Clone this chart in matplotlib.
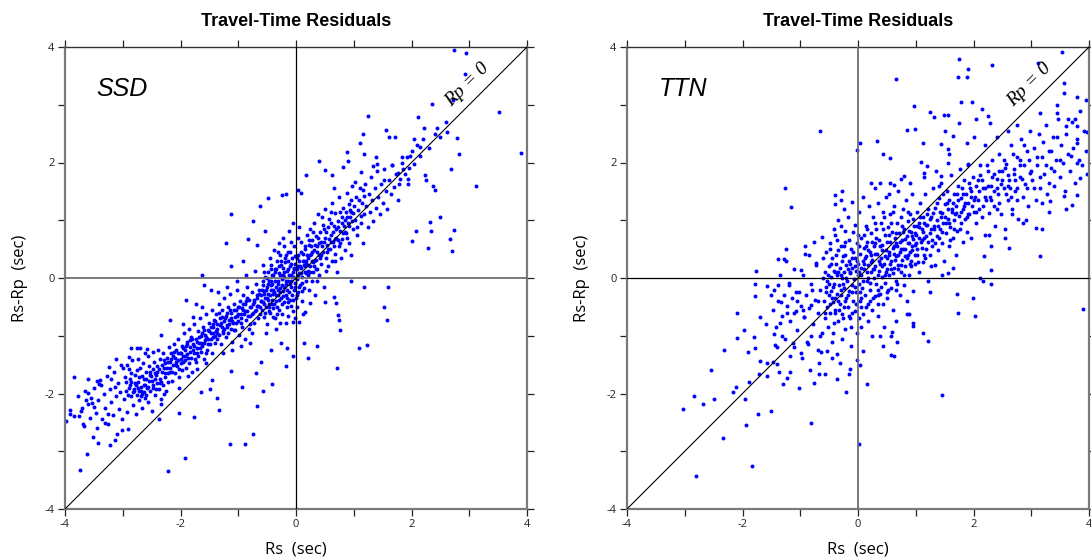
import matplotlib
matplotlib.use("Agg")
import matplotlib.pyplot as plt
import numpy as np

# ---------------- data (seconds) ----------------
ticks_major = [-4, -2, 0, 2, 4]
ticks_minor = [-3, -1, 1, 3]
panel_labels = ["SSD", "TTN"]
title_text = "Travel-Time Residuals"

# SSD: outliers / sparse points
ssd_sparse = [
(2.73,3.94),(2.94,3.89),(2.93,3.54),(2.35,3.02),(2.72,3.08),(3.52,2.87),(3.90,2.16),(1.24,2.80),
(2.11,2.78),(1.55,2.57),(1.16,2.49),(2.22,2.60),(2.44,2.60),(2.61,2.52),(2.79,2.43),(2.83,2.14),
(2.68,1.89),(3.12,1.60),(2.73,0.83),(2.67,0.67),(2.70,0.47),(2.50,1.05),(2.32,0.97),(2.33,0.82),
(2.28,0.52),(2.07,0.82),(2.01,0.64),(2.23,1.79),(2.25,1.69),(2.37,1.60),(2.41,1.52),(0.89,2.18),
(1.18,2.14),(1.10,2.33),(1.61,2.44),(1.71,2.45),(1.39,2.10),(2.05,2.41),(2.15,2.27),(1.98,2.12),
(1.84,2.10),(1.85,1.89),(0.40,2.03),(0.50,1.87),(0.17,1.78),(0.62,1.78),(0.82,1.93),(0.90,2.02),
(1.13,1.84),(1.34,1.94),(1.41,1.97),(1.67,1.95),(1.76,1.82),(1.52,1.69),(1.78,1.63),(1.94,1.72),
(1.94,1.63),(0.97,1.60),(0.66,1.55),(1.02,1.66),(1.16,1.53),(0.04,1.52),(0.08,1.48),(-0.17,1.46),
(-0.24,1.43),(-0.48,1.38),(-0.62,1.25),(-1.12,1.10),(-0.75,0.99),(-1.21,0.60),(-0.83,0.67),
(-0.54,0.81),(-0.68,0.58),(-0.92,0.30),(-1.13,0.20),(-1.63,0.06),
(-3.98,-2.47),(-3.92,-2.35),(-3.91,-2.28),(-3.84,-1.72),(-3.85,-2.39),(-3.76,-2.39),(-3.74,-3.32),
(-3.67,-2.57),(-3.62,-3.05),(-3.52,-2.75),(-3.43,-2.86),(-3.22,-2.89),(-3.13,-2.80),(-3.02,-2.63),
(-2.91,-2.62),(-3.30,-2.51),(-3.60,-1.99),(-3.64,-2.12),(-3.70,-2.25),(-3.54,-2.16),(-3.49,-2.23),
(-3.41,-1.83),(-3.40,-1.77),(-3.23,-1.54),(-3.21,-1.75),(-3.11,-1.40),(-3.03,-1.51),(-2.85,-1.22),
(-2.76,-1.22),(-2.70,-1.22),(-2.58,-1.23),(-2.89,-1.36),(-2.48,-1.29),(-2.33,-0.98),(-2.19,-0.73),
(-1.91,-0.38),(-1.73,-0.45),(-1.60,-0.12),(-1.47,-0.20),(-2.22,-3.35),(-1.93,-3.12),(-1.76,-2.41),
(-2.03,-2.33),(-2.37,-2.45),(-2.33,-2.18),(-1.65,-1.98),(-1.49,-1.92),(-1.45,-1.76),(-1.36,-2.08),
(-1.34,-2.29),(-1.15,-2.88),(-0.89,-2.87),(-0.74,-2.70),(-0.68,-2.21),(-0.94,-1.88),(-0.58,-1.95),
(-0.42,-1.83),(-0.69,-1.64),(-0.60,-1.45),(-1.13,-1.61),(-0.44,-1.25),(-0.17,-1.53),(-0.26,-1.13),
(-0.05,-1.35),(0.13,-1.13),(0.20,-1.38),(0.36,-1.18),(0.71,-1.55),(1.09,-1.21),(1.23,-1.16),
(0.77,-0.90),(0.74,-0.73),(0.72,-0.64),(0.69,-0.44),(1.57,-0.73),(1.53,-0.51),(1.59,-0.16),
(1.17,-0.15),(0.96,-0.06),(0.51,-0.41),(0.65,-0.33),(0.25,-0.44),(0.15,-0.59),(0.06,-0.76),
(-0.05,-0.77),(-0.16,-1.22),
]

# SSD: dense band
ssd_dense = [
(-3.78,-2.05),(-3.72,-2.30),(-3.66,-1.95),(-3.61,-2.18),(-3.57,-2.42),(-3.55,-2.08),(-3.50,-1.90),(-3.47,-2.33),
(-3.44,-2.60),(-3.42,-2.12),(-3.38,-1.85),(-3.36,-2.45),(-3.33,-2.01),(-3.30,-2.25),(-3.28,-1.70),(-3.25,-2.52),
(-3.22,-1.93),(-3.20,-2.15),(-3.17,-2.38),(-3.15,-1.62),(-3.12,-2.05),(-3.10,-2.70),(-3.08,-1.82),(-3.06,-2.27),
(-3.04,-1.98),(-3.02,-2.44),(-3.00,-1.55),(-3.45,-1.78),(-3.60,-1.75),(-3.68,-2.52),(-3.26,-2.35),(-3.14,-1.88),
(-2.98,-2.10),(-2.96,-1.72),(-2.94,-1.95),(-2.92,-2.32),(-2.90,-1.58),(-2.88,-1.85),(-2.86,-2.05),(-2.84,-1.42),
(-2.82,-2.20),(-2.80,-1.92),(-2.78,-1.68),(-2.76,-2.02),(-2.74,-1.80),(-2.72,-2.12),(-2.71,-1.95),(-2.70,-1.55),
(-2.68,-1.88),(-2.67,-2.25),(-2.66,-2.00),(-2.64,-1.75),(-2.63,-1.98),(-2.62,-2.08),(-2.60,-1.62),(-2.58,-1.90),
(-2.57,-1.35),(-2.56,-2.15),(-2.54,-1.78),(-2.52,-1.95),(-2.51,-1.70),(-2.50,-2.30),(-2.48,-1.58),(-2.47,-1.85),
(-2.46,-1.45),(-2.44,-2.02),(-2.42,-1.68),(-2.41,-1.82),(-2.40,-1.52),(-2.38,-1.92),(-2.36,-1.40),(-2.35,-1.75),
(-2.34,-2.10),(-2.32,-1.62),(-2.31,-1.30),(-2.30,-1.85),(-2.28,-1.55),(-2.27,-1.72),(-2.26,-1.48),(-2.25,-1.95),
(-2.24,-1.38),(-2.22,-1.65),(-2.21,-1.80),(-2.20,-1.20),(-2.85,-1.65),(-2.77,-2.35),(-2.65,-1.48),(-2.55,-1.52),
(-2.45,-1.65),(-2.39,-1.25),(-2.29,-2.00),(-2.93,-1.50),(-2.62,-1.30),(-2.74,-1.40),
(-2.19,-1.45),(-2.18,-1.62),(-2.16,-1.30),(-2.15,-1.78),(-2.13,-1.50),(-2.12,-1.15),(-2.10,-1.38),(-2.09,-1.65),
(-2.08,-1.25),(-2.06,-1.52),(-2.05,-1.05),(-2.04,-1.42),(-2.02,-1.72),(-2.01,-1.30),(-2.00,-1.48),(-1.98,-1.18),
(-1.97,-1.60),(-1.96,-1.35),(-1.94,-0.95),(-1.93,-1.42),(-1.92,-1.25),(-1.90,-1.55),(-1.89,-1.10),(-1.88,-1.32),
(-1.86,-1.48),(-1.85,-0.88),(-1.84,-1.20),(-1.82,-1.38),(-1.81,-1.02),(-1.80,-1.62),(-1.78,-1.15),(-1.77,-1.30),
(-1.76,-0.80),(-1.74,-1.45),(-1.73,-1.05),(-1.72,-1.22),(-1.70,-0.92),(-1.69,-1.35),(-1.68,-1.12),(-1.66,-0.70),
(-1.65,-1.28),(-1.64,-1.00),(-1.62,-1.18),(-1.61,-0.85),(-1.60,-1.40),(-1.58,-0.98),(-1.57,-1.08),(-1.56,-0.62),
(-1.54,-1.25),(-1.53,-0.90),(-1.52,-1.05),(-1.50,-0.78),(-1.49,-1.15),(-1.48,-0.95),(-1.46,-0.55),(-1.45,-1.30),
(-1.44,-0.85),(-1.43,-1.02),(-1.42,-0.72),(-1.41,-1.12),(-2.03,-1.90),(-1.87,-1.70),(-1.71,-1.58),(-1.55,-1.48),
(-1.95,-0.80),(-1.79,-0.68),(-1.63,-0.50),
(-1.39,-0.92),(-1.38,-0.62),(-1.37,-1.05),(-1.36,-0.80),(-1.34,-0.45),(-1.33,-0.98),(-1.32,-0.70),(-1.30,-1.15),
(-1.29,-0.85),(-1.28,-0.55),(-1.26,-0.92),(-1.25,-0.75),(-1.24,-0.35),(-1.22,-1.02),(-1.21,-0.65),(-1.20,-0.82),
(-1.18,-0.50),(-1.17,-0.95),(-1.16,-0.72),(-1.14,-0.28),(-1.13,-0.88),(-1.12,-0.60),(-1.10,-1.10),(-1.09,-0.78),
(-1.08,-0.45),(-1.06,-0.68),(-1.05,-0.90),(-1.04,-0.55),(-1.02,-0.20),(-1.01,-0.75),(-1.00,-0.62),(-0.98,-0.98),
(-0.97,-0.40),(-0.96,-0.70),(-0.94,-0.52),(-0.93,-0.85),(-0.92,-0.30),(-0.90,-0.62),(-0.89,-1.05),(-0.88,-0.45),
(-0.86,-0.72),(-0.85,-0.15),(-0.84,-0.58),(-0.82,-0.88),(-0.81,-0.38),(-0.80,-0.65),(-0.78,-0.50),(-0.77,-0.95),
(-0.76,-0.25),(-0.74,-0.60),(-0.73,-0.42),(-0.72,-0.78),(-0.70,-0.10),(-0.69,-0.55),(-0.68,-0.35),(-0.66,-0.70),
(-0.65,-0.48),(-0.64,-0.20),(-0.62,-0.62),(-0.61,-0.40),(-1.27,-1.30),(-1.11,-1.25),(-0.95,-1.18),(-0.79,-1.12),
(-1.35,-0.25),(-1.19,-0.15),(-1.03,-0.05),(-0.87,0.05),(-0.71,0.12),
(-0.60,-0.30),(-0.59,-0.55),(-0.58,-0.12),(-0.57,-0.42),(-0.56,-0.68),(-0.55,-0.22),(-0.54,0.02),(-0.53,-0.35),
(-0.52,-0.50),(-0.51,-0.15),(-0.50,-0.80),(-0.49,-0.28),(-0.48,0.10),(-0.47,-0.45),(-0.46,-0.05),(-0.45,-0.60),
(-0.44,-0.20),(-0.43,0.22),(-0.42,-0.38),(-0.41,-0.10),(-0.40,-0.52),(-0.39,0.05),(-0.38,-0.25),(-0.37,-0.70),
(-0.36,0.15),(-0.35,-0.15),(-0.34,-0.40),(-0.33,0.30),(-0.32,-0.05),(-0.31,-0.30),(-0.30,-0.55),(-0.29,0.08),
(-0.28,-0.18),(-0.27,0.40),(-0.26,-0.35),(-0.25,-0.02),(-0.24,-0.62),(-0.23,0.18),(-0.22,-0.22),(-0.21,0.02),
(-0.20,-0.42),(-0.19,0.28),(-0.18,-0.10),(-0.17,-0.30),(-0.16,0.12),(-0.15,-0.50),(-0.14,0.45),(-0.13,-0.05),
(-0.12,-0.25),(-0.11,0.20),(-0.10,-0.38),(-0.09,0.05),(-0.08,-0.15),(-0.07,0.35),(-0.06,-0.58),(-0.05,0.10),
(-0.04,-0.20),(-0.03,0.55),(-0.02,-0.08),(-0.01,0.25),(0.00,-0.35),(0.01,0.15),(0.02,-0.02),(0.03,0.40),
(0.04,-0.25),(0.05,0.08),(0.06,0.30),(0.07,-0.12),(0.08,0.62),(0.09,0.18),(0.10,-0.40),(0.11,0.02),
(0.12,0.42),(0.13,0.22),(0.14,-0.18),(0.15,0.10),(0.16,0.50),(0.17,0.30),(0.18,-0.05),(0.19,0.75),
(-0.45,0.35),(-0.38,0.48),(-0.30,0.60),(-0.22,0.70),(-0.12,0.82),(-0.05,0.95),(0.05,0.88),(-0.52,-0.95),
(-0.35,-0.88),(-0.18,-0.78),(-0.02,-0.70),(0.12,-0.62),(-0.26,0.22),(-0.14,0.30),(-0.09,-0.48),(0.03,0.70),
(-0.33,-0.62),(-0.58,0.22),
(0.20,0.35),(0.21,0.05),(0.22,0.58),(0.23,-0.20),(0.24,0.20),(0.25,0.85),(0.26,0.42),(0.27,-0.05),
(0.28,0.65),(0.29,0.28),(0.30,0.10),(0.31,0.95),(0.32,0.48),(0.33,-0.30),(0.34,0.72),(0.35,0.32),
(0.36,0.15),(0.37,0.55),(0.38,1.10),(0.39,0.40),(0.40,0.05),(0.42,0.80),(0.43,0.62),(0.44,0.25),
(0.46,0.92),(0.47,0.45),(0.48,-0.15),(0.50,0.70),(0.51,1.20),(0.52,0.35),(0.54,0.58),(0.55,0.88),
(0.56,0.20),(0.58,1.02),(0.59,0.50),(0.60,0.75),(0.62,0.30),(0.63,1.30),(0.64,0.62),(0.66,0.90),
(0.67,0.42),(0.68,1.12),(0.70,0.70),(0.71,0.10),(0.72,0.98),(0.74,0.55),(0.75,1.40),(0.76,0.82),
(0.78,0.35),(0.79,1.05),(0.80,0.68),(0.82,1.22),(0.83,0.90),(0.84,0.48),(0.86,1.15),(0.87,0.78),
(0.88,1.48),(0.90,0.95),(0.91,0.60),(0.92,1.28),(0.94,1.05),(0.95,0.40),(0.96,1.35),(0.98,0.85),
(0.99,1.12),
(1.02,1.00),(1.04,1.40),(1.06,0.75),(1.08,1.18),(1.10,1.55),(1.12,0.95),(1.14,1.30),(1.16,0.60),
(1.18,1.10),(1.20,1.62),(1.22,1.25),(1.24,0.88),(1.26,1.45),(1.28,1.15),(1.30,1.75),(1.32,1.35),
(1.34,0.98),(1.36,1.55),(1.38,1.22),(1.40,1.85),(1.42,1.40),(1.45,1.10),(1.48,1.62),(1.50,1.30),
(1.53,1.88),(1.56,1.50),(1.58,1.20),(1.61,1.70),(1.64,1.45),(1.67,1.95),(1.70,1.58),(1.73,1.80),
(1.76,1.35),(1.80,1.72),(1.84,2.00),(1.88,1.80),(1.92,2.10),(1.96,1.90),(2.00,2.20),(2.05,1.98),
(2.10,2.30),(2.15,2.12),(2.20,2.40),(2.30,2.25),(2.40,2.50),(2.50,2.45),(2.60,2.70),
]

# SSD: further points in the solid core of the band
ssd_core = [
(-2.95,-1.80),(-2.91,-2.02),(-2.87,-1.75),(-2.83,-1.98),(-2.79,-1.82),(-2.75,-1.60),(-2.73,-1.90),(-2.69,-2.05),
(-2.66,-1.70),(-2.61,-1.85),(-2.59,-2.02),(-2.53,-1.62),(-2.49,-1.78),(-2.43,-1.92),(-2.37,-1.58),(-2.33,-1.80),
(-2.29,-1.42),(-2.23,-1.55),(-2.17,-1.40),(-2.14,-1.62),(-2.11,-1.28),(-2.07,-1.45),(-2.03,-1.58),(-1.99,-1.30),
(-1.95,-1.45),(-1.91,-1.18),(-1.87,-1.38),(-1.83,-1.08),(-1.79,-1.25),(-1.75,-1.40),(-1.71,-1.10),(-1.67,-1.22),
(-1.63,-0.95),(-1.59,-1.12),(-1.55,-1.30),(-1.51,-0.92),(-1.47,-1.05),(-1.43,-0.80),(-1.40,-1.00),(-1.36,-0.88),
(-1.33,-0.60),(-1.30,-0.78),(-1.27,-0.95),(-1.23,-0.70),(-1.19,-0.85),(-1.15,-0.55),(-1.11,-0.75),(-1.07,-0.90),
(-1.03,-0.65),(-0.99,-0.50),(-0.95,-0.78),(-0.91,-0.55),(-0.87,-0.40),(-0.83,-0.65),(-0.79,-0.80),(-0.75,-0.45),
(-0.71,-0.58),(-0.67,-0.30),(-0.63,-0.50),
(-0.59,-0.20),(-0.57,-0.05),(-0.55,-0.45),(-0.53,-0.60),(-0.51,-0.35),(-0.49,-0.10),(-0.47,-0.58),(-0.45,-0.30),
(-0.43,-0.05),(-0.41,-0.45),(-0.39,-0.20),(-0.37,0.10),(-0.35,-0.30),(-0.33,-0.50),(-0.31,-0.10),(-0.29,0.20),
(-0.27,-0.25),(-0.25,-0.45),(-0.23,0.05),(-0.21,-0.15),(-0.19,0.35),(-0.17,-0.05),(-0.15,-0.35),(-0.13,0.15),
(-0.11,-0.10),(-0.09,0.25),(-0.07,-0.30),(-0.05,0.02),(-0.03,0.18),(-0.01,-0.15),(0.01,0.35),(0.03,0.05),
(0.05,-0.15),(0.07,0.20),(0.09,0.45),(0.11,-0.08),(0.13,0.30),(0.15,0.55),(0.17,0.08),(0.19,0.40),
(0.21,0.22),(0.23,0.65),(0.25,0.10),(0.27,0.45),(0.29,0.80),(0.31,0.30),(0.33,0.58),(0.35,0.15),
(-0.56,0.10),(-0.44,0.15),(-0.32,0.45),(-0.20,0.55),(-0.08,0.62),(0.02,-0.50),(-0.14,-0.65),(-0.28,-0.78),
(-0.40,-0.68),
(0.38,0.70),(0.41,0.35),(0.45,0.55),(0.49,0.85),(0.53,0.45),(0.57,0.68),(0.61,0.95),(0.65,0.55),
(0.69,0.85),(0.73,0.65),(0.77,1.15),(0.81,0.78),(0.85,1.00),(0.89,0.70),(0.93,1.18),(0.97,0.98),
(1.01,1.25),(1.05,0.88),(1.09,1.35),(1.13,1.08),(1.17,1.42),(0.45,1.05),(0.60,1.15),(0.36,-0.05),
(0.52,0.12),(0.68,0.30),
(-2.90,-1.90),(-2.86,-1.80),(-2.81,-1.95),(-2.77,-1.85),(-2.72,-1.72),(-2.68,-1.95),(-2.64,-1.85),(-2.60,-1.75),
(-2.56,-1.88),(-2.52,-1.68),(-2.48,-1.90),(-2.44,-1.75),(-2.40,-1.62),(-2.36,-1.82),(-2.32,-1.50),(-2.27,-1.65),
(-2.22,-1.45),(-2.18,-1.55),(-2.13,-1.35),(-2.08,-1.50),(-2.04,-1.30),(-2.00,-1.40),(-1.96,-1.22),(-1.92,-1.35),
(-1.88,-1.15),(-1.84,-1.28),(-1.80,-1.05),(-1.76,-1.18),(-1.72,-1.30),(-1.68,-1.02),(-1.64,-1.12),(-1.60,-0.90),
(-1.56,-1.02),(-1.52,-1.15),(-1.48,-0.85),(-1.44,-0.95),(-1.40,-0.75),(-1.36,-0.95),(-1.32,-0.82),(-1.28,-0.68),
(-1.24,-0.88),(-1.20,-0.60),(-1.16,-0.80),(-1.12,-0.70),(-1.08,-0.55),(-1.04,-0.78),(-1.00,-0.50),(-0.96,-0.62),
(-0.92,-0.45),(-0.88,-0.58),(-0.84,-0.35),(-0.80,-0.50),(-0.76,-0.62),(-0.72,-0.38),(-0.68,-0.48),(-0.64,-0.28),
(-0.60,-0.40),(-0.56,-0.28),(-0.52,-0.20),(-0.48,-0.38),(-0.44,-0.12),(-0.40,-0.28),(-0.36,-0.05),(-0.32,-0.20),
(-0.28,0.05),(-0.24,-0.12),(-0.20,0.10),(-0.16,-0.20),(-0.12,0.05),(-0.08,-0.05),(-0.04,0.15),(0.00,0.00),
(0.04,0.20),(0.08,0.08),(0.12,0.30),(0.16,0.20),(0.20,0.12),(0.24,0.40),(0.28,0.30),(0.32,0.20),
(0.36,0.45),(0.40,0.60),(0.44,0.40),(0.48,0.62),(0.52,0.80),(0.56,0.50),(0.60,0.62),(0.64,0.80),
(0.68,0.68),(0.72,0.88),(0.76,0.60),(0.80,0.95),(0.84,0.80),(0.88,1.05),(0.92,0.90),(0.96,1.15),
(-0.50,0.00),(-0.42,0.05),(-0.34,0.15),(-0.26,0.30),(-0.18,0.40),(-0.10,0.45),(-0.02,0.38),(-0.46,-0.50),
(-0.38,-0.45),(-0.30,-0.38),(-0.22,-0.32),(-0.14,-0.42),(-0.06,-0.38),(0.02,-0.30),(0.10,-0.22),(0.18,0.25),
(0.26,0.55),
]

# TTN: outliers / sparse points
ttn_sparse = [
(3.54,3.91),(1.75,3.80),(2.32,3.68),(1.90,3.62),(1.73,3.48),(1.89,3.48),(0.66,3.44),(3.12,3.72),
(3.57,3.38),(3.57,3.21),(3.79,3.13),(3.94,3.08),(0.97,2.97),(1.79,3.04),(1.97,3.05),(2.14,2.92),
(1.24,2.87),(1.32,2.79),(1.49,2.83),(1.56,2.83),(1.75,2.69),(2.04,2.75),(2.25,2.80),(2.28,2.69),
(0.85,2.56),(0.98,2.58),(1.50,2.54),(1.64,2.46),(-0.65,2.54),(-0.02,2.21),(0.04,2.33),(0.33,2.38),
(1.12,2.33),(1.43,2.32),(1.56,2.23),(1.57,2.14),(1.88,2.33),(2.00,2.45),(0.44,2.14),(0.56,2.08),
(1.09,2.01),(1.19,1.94),(1.90,1.98),(-1.26,1.55),(-1.16,1.23),(-0.40,1.43),(-0.28,1.51),(-0.39,1.28),
(-0.30,1.35),(0.22,1.65),(0.38,1.65),(0.54,1.45),(0.63,1.61),(0.79,1.76),(0.90,1.64),(1.15,1.82),
(1.40,1.59),(1.44,1.76),(3.44,2.86),(3.63,2.76),(3.75,2.75),(3.61,2.63),(3.80,2.63),(3.96,2.53),
(3.80,2.34),(3.68,2.11),(3.80,1.99),(3.85,1.73),(3.80,1.43),(3.71,1.27),(3.57,1.42),(3.33,1.34),
(3.18,1.30),(3.09,0.87),(3.18,0.84),(3.15,0.38),(2.91,1.01),(2.66,1.10),(2.27,0.74),(2.19,0.38),
(2.62,0.52),(2.30,0.14),(2.12,0.00),(1.56,0.09),(1.27,0.20),(-0.92,0.41),(-1.24,0.50),(-1.39,0.33),
(-1.29,0.33),(-1.76,0.12),(-0.99,0.13),(-0.73,0.26),(-0.63,0.71),(-0.42,0.84),
(-1.79,-0.10),(-1.78,-0.32),(-2.09,-0.60),(-1.97,-0.90),(-2.09,-1.04),(-2.32,-1.25),(-1.91,-1.29),
(-2.55,-1.59),(-2.12,-1.88),(-2.17,-1.97),(-1.88,-1.80),(-1.95,-2.10),(-1.74,-2.35),(-1.94,-2.55),
(-1.50,-2.30),(-2.34,-2.77),(-1.84,-3.26),(-2.80,-3.43),(-2.84,-2.04),(-2.69,-2.19),(-3.03,-2.26),
(-2.49,-2.10),(-1.79,-1.21),(-1.80,-1.02),(-1.70,-1.43),(-1.71,-1.66),(-1.58,-1.69),(-1.58,-1.47),
(-1.48,-1.45),(-1.41,-1.49),(-1.37,-1.62),(-1.30,-1.84),(-1.23,-1.73),(-1.17,-1.63),(-1.03,-1.91),
(-0.83,-1.60),(-0.77,-1.82),(-0.82,-2.51),(-0.67,-1.66),(-0.57,-1.66),(-0.37,-1.75),(-0.21,-1.98),
(-0.16,-1.66),(-0.13,-1.58),(0.02,-2.87),(0.15,-1.83),(1.46,-2.03),(1.22,-1.09),(1.13,-0.95),
(0.95,-0.83),(0.96,-0.78),(0.89,-0.63),(1.73,-0.60),(1.72,-0.28),(1.99,-0.35),(2.02,-0.66),
(3.89,-0.53),(2.30,-0.10),(2.16,-0.05),(0.62,-1.35),(0.58,-1.33),(0.67,-1.10),(0.59,-0.94),
(0.43,-1.17),(0.57,-1.01),(0.38,-1.01),(0.24,-1.01),(0.08,-1.27),(0.04,-1.51),(-0.02,-1.42),
(-0.31,-1.47),(-0.37,-1.31),(-0.45,-1.39),(-0.54,-1.27),(-0.64,-1.29),(-0.68,-1.47),(-0.97,-1.38),
(-1.10,-1.19),(-1.13,-1.13),(-1.44,-1.16),(-1.46,-0.97),(-1.31,-1.01),(-1.35,-0.78),(-1.60,-0.79),
(-1.70,-0.68),(-1.50,-0.30),(-1.58,-0.14),(-1.38,-0.12),(-1.20,-0.09),(-1.08,-0.24),(-1.33,-0.41),
(-1.23,-0.61),(-1.11,-0.61),(-0.94,-0.68),(-0.81,-0.46),(-0.82,-1.01),(-0.65,-1.01),(-0.89,-1.10),
]

# TTN: dense band
ttn_dense = [
(-1.48,-0.55),(-1.45,-0.20),(-1.42,-0.85),(-1.38,-0.40),(-1.35,0.05),(-1.32,-0.65),(-1.29,-0.30),(-1.26,-1.05),
(-1.23,-0.48),(-1.20,-0.12),(-1.17,-0.75),(-1.14,-0.35),(-1.11,0.15),(-1.08,-0.58),(-1.05,-0.90),(-1.02,-0.25),
(-0.99,-0.48),(-0.96,0.05),(-0.93,-0.68),(-0.90,-0.30),(-0.87,-1.15),(-0.84,-0.52),(-0.81,-0.10),(-0.78,-0.80),
(-0.75,-0.38),(-0.72,0.22),(-0.69,-0.60),(-0.66,-0.20),(-0.63,-0.95),(-0.61,0.35),(-1.40,-1.20),(-1.18,-1.35),
(-0.98,-1.30),(-0.85,0.40),(-0.70,-1.25),(-1.25,0.30),(-0.92,0.55),(-0.76,0.62),
(-0.59,-0.40),(-0.58,0.10),(-0.57,-0.70),(-0.56,-0.15),(-0.55,0.45),(-0.54,-0.50),(-0.53,-0.05),(-0.52,-0.85),
(-0.51,0.20),(-0.50,-0.30),(-0.49,0.60),(-0.48,-0.60),(-0.47,0.02),(-0.46,-0.22),(-0.45,0.35),(-0.44,-0.95),
(-0.43,-0.42),(-0.42,0.12),(-0.41,-0.10),(-0.40,0.75),(-0.39,-0.55),(-0.38,0.25),(-0.37,-0.28),(-0.36,0.05),
(-0.35,-0.75),(-0.34,0.48),(-0.33,-0.12),(-0.32,-0.45),(-0.31,0.18),(-0.30,0.90),(-0.29,-0.30),(-0.28,0.00),
(-0.27,-0.62),(-0.26,0.38),(-0.25,-0.18),(-0.24,0.10),(-0.23,-0.88),(-0.22,0.62),(-0.21,-0.35),(-0.20,0.22),
(-0.19,-0.05),(-0.18,-0.50),(-0.17,1.05),(-0.16,0.30),(-0.15,-0.22),(-0.14,0.08),(-0.13,-0.70),(-0.12,0.50),
(-0.11,-0.12),(-0.10,0.18),(-0.09,-0.40),(-0.08,0.80),(-0.07,-0.02),(-0.06,0.35),(-0.05,-0.58),(-0.04,0.12),
(-0.03,-0.25),(-0.02,0.60),(-0.01,-0.95),(0.00,0.25),(0.01,-0.10),(0.02,1.15),(0.03,0.42),(0.04,-0.40),
(0.05,0.05),(0.06,0.70),(0.07,-0.18),(0.08,0.30),(0.09,-0.62),(0.10,0.52),(0.11,0.15),(0.12,-0.30),
(0.13,0.90),(0.14,0.38),(0.15,-0.05),(0.16,0.62),(0.17,-0.45),(0.18,0.22),(0.19,1.25),(-0.35,1.00),
(-0.25,1.20),(-0.10,1.32),(0.08,1.40),(-0.45,-1.10),(-0.28,-1.05),(-0.12,-1.18),(0.05,-0.85),
(0.20,0.45),(0.21,-0.20),(0.22,0.10),(0.23,0.78),(0.24,-0.55),(0.25,0.32),(0.26,1.05),(0.27,0.00),
(0.28,0.55),(0.29,-0.32),(0.30,0.20),(0.31,0.85),(0.32,-0.10),(0.33,0.42),(0.34,1.30),(0.35,-0.65),
(0.36,0.65),(0.37,0.12),(0.38,-0.28),(0.39,0.95),(0.40,0.35),(0.41,0.02),(0.42,0.58),(0.43,1.15),
(0.44,-0.45),(0.45,0.25),(0.46,0.75),(0.47,-0.08),(0.48,0.48),(0.49,1.40),(0.50,0.15),(0.51,-0.35),
(0.52,0.88),(0.53,0.40),(0.54,0.05),(0.55,0.62),(0.56,1.10),(0.57,-0.18),(0.58,0.30),(0.59,0.80),
(0.60,0.52),(0.61,-0.55),(0.62,0.18),(0.63,1.25),(0.64,0.70),(0.65,0.38),(0.66,-0.05),(0.67,0.95),
(0.68,0.55),(0.69,0.22),(0.70,1.50),(0.71,0.78),(0.72,-0.30),(0.73,0.45),(0.74,1.05),(0.75,0.10),
(0.76,0.65),(0.77,0.32),(0.78,1.20),(0.79,-0.12),(0.80,0.85),(0.81,0.50),(0.82,0.20),(0.83,1.35),
(0.84,0.72),(0.85,-0.40),(0.86,0.40),(0.87,0.98),(0.88,0.60),(0.89,0.05),(0.90,1.10),(0.91,0.30),
(0.92,0.80),(0.93,0.48),(0.94,1.45),(0.95,-0.22),(0.96,0.68),(0.97,0.90),(0.98,0.25),(0.99,0.58),
(0.30,1.55),(0.55,1.65),(0.75,1.72),(0.45,-0.85),(0.65,-0.75),(0.85,-0.62),
(1.01,0.75),(1.02,1.15),(1.03,0.40),(1.05,0.95),(1.06,0.10),(1.08,1.30),(1.09,0.62),(1.10,0.85),
(1.12,0.28),(1.13,1.05),(1.15,0.70),(1.16,1.45),(1.18,0.50),(1.19,0.92),(1.21,-0.05),(1.22,1.20),
(1.24,0.78),(1.25,0.40),(1.27,1.05),(1.28,0.65),(1.30,1.55),(1.31,0.90),(1.33,0.22),(1.34,1.22),
(1.36,0.72),(1.37,1.00),(1.39,0.48),(1.40,1.38),(1.42,0.85),(1.43,1.65),(1.45,0.60),(1.46,1.12),
(1.48,0.95),(1.49,0.30),(1.51,1.28),(1.52,0.78),(1.54,1.50),(1.55,1.02),(1.57,0.55),(1.58,1.35),
(1.60,0.88),(1.61,1.78),(1.63,1.15),(1.64,0.70),(1.66,1.45),(1.67,1.00),(1.69,0.40),(1.70,1.25),
(1.72,0.82),(1.73,1.60),(1.75,1.08),(1.76,1.88),(1.78,0.95),(1.79,1.38),(1.81,0.62),(1.82,1.20),
(1.84,1.70),(1.85,1.02),(1.87,1.45),(1.88,0.80),(1.90,1.30),(1.91,1.95),(1.93,1.10),(1.94,1.55),
(1.96,0.70),(1.97,1.25),(1.99,1.75),(1.15,1.75),(1.35,1.85),(1.55,2.00),(1.25,-0.25),(1.45,0.05),
(1.65,0.18),
(2.02,1.40),(2.05,0.95),(2.07,1.70),(2.10,1.20),(2.12,1.95),(2.15,1.05),(2.17,1.55),(2.20,0.75),
(2.22,1.35),(2.25,1.85),(2.27,1.12),(2.30,1.60),(2.32,2.05),(2.35,1.25),(2.37,0.90),(2.40,1.72),
(2.42,1.45),(2.45,2.15),(2.47,1.10),(2.50,1.85),(2.52,1.55),(2.55,0.85),(2.57,1.98),(2.60,1.35),
(2.62,1.70),(2.65,2.30),(2.67,1.20),(2.70,1.88),(2.72,1.50),(2.75,2.10),(2.77,1.02),(2.80,1.75),
(2.82,2.40),(2.85,1.40),(2.87,1.95),(2.90,1.62),(2.92,2.20),(2.95,1.25),(2.97,1.82),(2.98,2.55),
(2.20,2.30),(2.40,2.45),(2.60,2.55),(2.75,2.65),(2.30,0.55),(2.55,0.70),(2.85,0.95),
(3.02,1.70),(3.05,2.25),(3.08,1.35),(3.10,1.95),(3.13,2.50),(3.16,1.55),(3.19,2.10),(3.22,1.80),
(3.25,2.65),(3.28,1.45),(3.31,2.20),(3.34,1.90),(3.37,2.45),(3.40,1.60),(3.43,2.05),(3.46,2.75),
(3.49,1.75),(3.52,2.30),(3.55,2.00),(3.58,1.50),(3.61,2.50),(3.64,2.15),(3.67,1.85),(3.70,2.70),
(3.73,2.25),(3.76,1.65),(3.79,2.40),(3.82,2.05),(3.85,2.90),(3.88,1.95),(3.91,2.55),(3.94,2.20),
(3.97,1.80),(3.30,1.15),(3.60,1.20),(3.15,2.85),(3.45,3.00),
]

# TTN: further points in the solid core of the cloud
ttn_core = [
(-0.55,-0.25),(-0.52,0.05),(-0.49,-0.45),(-0.46,0.25),(-0.43,-0.15),(-0.40,-0.35),(-0.38,0.40),(-0.35,0.10),
(-0.33,-0.55),(-0.30,-0.20),(-0.28,0.30),(-0.25,0.55),(-0.23,-0.40),(-0.20,0.00),(-0.18,0.15),(-0.15,-0.65),
(-0.13,0.25),(-0.10,-0.25),(-0.08,0.45),(-0.05,0.20),(-0.03,-0.45),(0.00,0.05),(0.02,0.55),(0.04,-0.25),
(0.06,0.18),(0.08,-0.05),(0.10,0.75),(0.12,0.35),(0.14,-0.50),(0.16,0.10),(0.18,0.48),(0.20,-0.08),
(0.22,0.28),(0.24,0.62),(0.26,-0.35),(0.28,0.15),(0.30,0.42),(0.32,0.70),(0.34,0.05),(0.36,0.30),
(0.38,0.55),(0.40,-0.15),(0.42,0.20),(0.44,0.85),(0.46,0.38),(0.48,0.10),(0.50,0.62),(0.52,-0.20),
(0.54,0.45),(0.56,0.25),(0.58,0.95),(0.60,0.08),(0.62,0.55),(0.64,0.32),(0.66,0.78),(0.68,-0.10),
(0.70,0.40),(0.72,0.62),(0.74,0.22),(0.76,0.90),(0.78,0.50),(0.80,0.05),(0.82,0.68),(0.84,0.35),
(0.86,1.15),(0.88,0.82),(0.90,0.45),(0.92,0.20),(0.94,0.72),(0.96,1.02),(0.98,0.40),(1.00,0.60),
(1.02,0.90),(1.04,0.28),(1.06,0.70),(1.08,1.05),(1.10,0.52),(1.12,0.80),(1.14,0.95),(1.16,0.35),
(1.18,0.72),(1.20,1.10),(-0.48,0.50),(-0.36,0.65),(-0.22,0.82),(-0.06,0.92),(-0.58,-0.60),(-0.42,-0.78),
(-0.26,-0.70),(-0.12,-0.85),(0.02,-0.70),(0.18,-0.75),(0.35,-0.45),
(1.24,1.02),(1.28,0.55),(1.32,0.85),(1.36,1.30),(1.40,0.70),(1.44,1.05),(1.48,1.45),(1.52,0.95),
(1.56,1.20),(1.60,0.65),(1.64,1.30),(1.68,1.10),(1.72,1.45),(1.76,0.85),(1.80,1.55),(1.84,1.25),
(1.88,1.05),(1.92,1.65),(1.96,1.40),(2.00,1.15),(2.04,1.60),(2.08,1.35),(2.12,1.78),(2.16,1.25),
(2.20,1.55),(2.24,1.95),(2.28,1.40),(2.32,1.75),(2.36,1.50),(2.40,1.20),(2.44,1.85),(2.48,1.62),
(2.52,2.05),(2.56,1.45),(2.60,1.78),(2.64,1.55),(2.68,2.15),(2.72,1.70),(2.76,1.35),(2.80,1.95),
(2.84,1.72),(2.88,2.30),(2.92,1.55),(2.96,2.05),(3.00,1.85),(3.05,1.55),(3.10,2.10),(3.15,1.75),
(3.20,2.35),(3.25,1.95),(3.30,1.65),(3.35,2.20),(3.40,1.85),(3.45,2.45),(3.50,2.05),
(-0.50,-0.10),(-0.45,-0.35),(-0.40,0.10),(-0.35,-0.40),(-0.30,0.05),(-0.26,-0.10),(-0.22,0.40),(-0.18,-0.30),
(-0.14,0.10),(-0.10,0.35),(-0.06,-0.15),(-0.02,0.30),(0.02,0.10),(0.06,-0.35),(0.10,0.25),(0.14,0.55),
(0.18,0.00),(0.22,0.40),(0.26,0.15),(0.30,0.60),(0.34,-0.20),(0.38,0.25),(0.42,0.48),(0.46,0.05),
(0.50,0.35),(0.54,0.75),(0.58,0.15),(0.62,0.42),(0.66,0.60),(0.70,0.15),(0.74,0.50),(0.78,0.80),
(0.82,0.38),(0.86,0.60),(0.90,0.25),(0.94,0.55),(0.98,0.78),(1.02,0.50),(1.06,0.88),(1.10,0.65),
(1.14,0.40),(1.18,0.92),(1.22,0.62),(1.26,0.85),(1.30,1.12),(1.34,0.60),(1.38,0.90),(1.42,1.15),
(1.46,0.80),(1.50,1.05),(1.54,1.30),(1.58,0.95),(1.62,1.20),(1.66,0.85),(1.70,1.12),(1.74,1.35),
(1.78,1.15),(1.82,1.45),(1.86,1.30),(1.90,1.10),(1.95,1.50),(2.00,1.35),(2.05,1.15),(2.10,1.50),
(2.15,1.70),(2.20,1.40),(2.25,1.60),(2.30,1.35),(2.35,1.80),(2.40,1.55),(2.45,1.30),(2.50,1.70),
(2.55,1.90),(2.60,1.60),(2.65,1.40),(2.70,1.80),(2.75,1.55),(2.80,2.05),(-0.30,0.55),(-0.15,0.65),
(0.00,0.75),(0.15,0.85),(0.30,0.95),(0.45,1.05),(0.60,1.15),(-0.40,-0.60),(-0.25,-0.50),(-0.10,-0.60),
(0.05,-0.50),(0.20,-0.40),(0.35,-0.30),(0.50,-0.25),(0.65,-0.20),(-0.60,0.00),(-0.70,-0.40),(-0.80,-0.20),
(-0.95,-0.55),(-1.05,-0.40),
]

# ---------------- figure ----------------
W, H = 1091, 560
fig = plt.figure(figsize=(W / 100, H / 100), dpi=100)

GREY = "#7a7a7a"
BLUE = "#0000ff"
label_font = ["Open Sans", "DejaVu Sans"]

panels = [
    dict(pts=ssd_sparse + ssd_dense + ssd_core, name=panel_labels[0], left=65,
         hcol="#6e6e6e", hlw=1.3, vcol="black", vlw=0.9),
    dict(pts=ttn_sparse + ttn_dense + ttn_core, name=panel_labels[1], left=627,
         hcol="black", hlw=0.9, vcol="#6e6e6e", vlw=1.3),
]

for p in panels:
    ax = fig.add_axes([p["left"] / W, 51 / H, 462 / W, 462 / H])
    xs = np.array([q[0] for q in p["pts"]])
    ys = np.array([q[1] for q in p["pts"]])
    ax.scatter(xs, ys, s=8, marker="o", color=BLUE, linewidths=0, zorder=2)
    ax.axhline(0, color=p["hcol"], lw=p["hlw"], zorder=3)
    ax.axvline(0, color=p["vcol"], lw=p["vlw"], zorder=3)
    ax.plot([-4, 4], [-4, 4], color="black", lw=0.8, zorder=3)
    ax.set_xlim(-4, 4)
    ax.set_ylim(-4, 4)
    ax.set_xticks(ticks_major)
    ax.set_yticks(ticks_major)
    ax.set_xticks(ticks_minor, minor=True)
    ax.set_yticks(ticks_minor, minor=True)
    ax.set_xticklabels([str(t) for t in ticks_major], family=label_font)
    ax.set_yticklabels([str(t) for t in ticks_major], family=label_font)
    for which in ("major", "minor"):
        ax.tick_params(which=which, direction="out", length=5, width=0.9,
                       color="#222222", top=True, right=True,
                       labelsize=8, pad=2.5, labelcolor="#222222")
    for s in ax.spines.values():
        s.set_color(GREY)
        s.set_linewidth(1.6)
    ax.spines["top"].set_color("#333333")
    ax.spines["top"].set_linewidth(1.0)
    ax.text(-3.45, 3.28, p["name"], fontsize=18, style="italic",
            family=["Liberation Sans", "DejaVu Sans"], ha="left", va="center")
    ax.text(2.97, 3.35, "Rp = 0", fontsize=14, style="italic",
            family=["Liberation Serif", "DejaVu Serif"], rotation=45,
            rotation_mode="anchor", ha="center", va="center")
    cx = (p["left"] + 231) / W
    fig.text(cx, 1 - 22 / H, title_text, ha="center", va="center",
             fontsize=13, fontweight="bold", family=["Liberation Sans", "DejaVu Sans"])
    fig.text(cx, 1 - 549 / H, "Rs  (sec)", ha="center", va="center",
             fontsize=12, family=label_font)
    fig.text((p["left"] - 45) / W, 1 - 278 / H, "Rs-Rp  (sec)", ha="center",
             va="center", rotation=90, fontsize=12, family=label_font)

fig.savefig("out.png", dpi=100)
